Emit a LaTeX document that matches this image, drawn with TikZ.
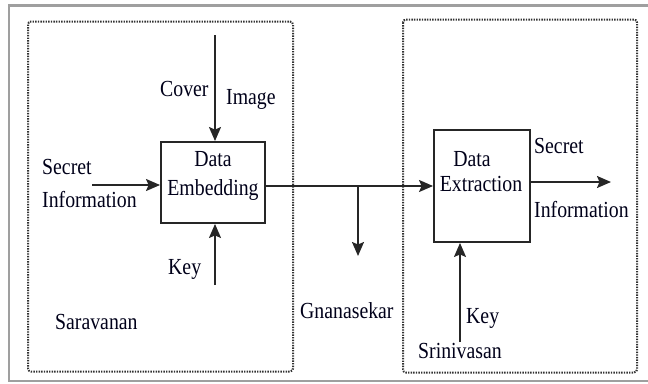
\documentclass[tikz,border=0pt]{standalone}
\usepackage{fontspec}
\setmainfont{Liberation Serif}[FakeStretch=0.86]
\usetikzlibrary{arrows.meta}

\begin{document}
\begin{tikzpicture}[x=1pt,y=-1pt,
  txt/.style={inner sep=0pt,font=\fontsize{23}{25}\selectfont,text=black!90!blue},
  lbl/.style={txt,anchor=base west},
  ctr/.style={txt,anchor=base},
  blk/.style={draw=black!85,line width=1.9pt,inner sep=0pt},
  arr/.style={draw=black!85,line width=1.7pt,-{Stealth[length=14pt,width=12pt,inset=2.5pt]}},
  zone/.style={draw=black!80,line width=2pt,dash pattern=on 1.4pt off 1.2pt,rounded corners=3pt},
  frame/.style={draw=gray!75,line width=2.4pt}]
\useasboundingbox (0,0) rectangle (648,383);

% outer frame (open on the right)
\draw[frame] (648,5.5) -- (9,5.5) -- (9,381) -- (648,381);

% sender and receiver zones
\draw[zone] (28,21.5) rectangle (293,371.5);
\draw[zone] (403,19.5) rectangle (637,372.5);

% processing blocks
\node[blk,minimum width=104pt,minimum height=81pt] (emb) at (213,182.5) {};
\node[blk,minimum width=96pt,minimum height=112pt] (ext) at (482,186) {};

\node[ctr] (embA) at (213,166) {Data};
\node[ctr] (embB) at (213,195) {Embedding};
\node[ctr] (extA) at (472,166) {Data};
\node[ctr] (extB) at (481,191) {Extraction};

% free ends of the connectors
\coordinate (cvr) at (215,35);
\coordinate (sin) at (92,185);
\coordinate (kin) at (215,285);
\coordinate (br) at (358,186);
\coordinate (gd) at (358,256);
\coordinate (sout) at (611,182);
\coordinate (kex) at (460,342);

% connectors
\draw[arr] (cvr) -- (cvr |- emb.north);
\draw[arr] (sin) -- (sin -| emb.west);
\draw[arr] (kin) -- (kin |- emb.south);
\draw[arr] (br -| emb.east) -- (br -| ext.west);
\draw[arr] (br) -- (gd);
\draw[arr] (sout -| ext.east) -- (sout);
\draw[arr] (kex) -- (kex |- ext.south);

% labels
\node[lbl] (cov) at (160,96) {Cover};
\node[lbl] (img) at (226,104) {Image};
\node[lbl] (secL) at (42,174) {Secret};
\node[lbl] (infL) at (42,207) {Information};
\node[lbl] (keyL) at (168,274) {Key};
\node[lbl] (sar) at (55,329) {Saravanan};
\node[lbl] (gna) at (300,318) {Gnanasekar};
\node[lbl] (secR) at (534,153) {Secret};
\node[lbl] (infR) at (534,217) {Information};
\node[lbl] (keyR) at (466,323) {Key};
\node[lbl] (sri) at (418,358) {Srinivasan};
\end{tikzpicture}
\end{document}
